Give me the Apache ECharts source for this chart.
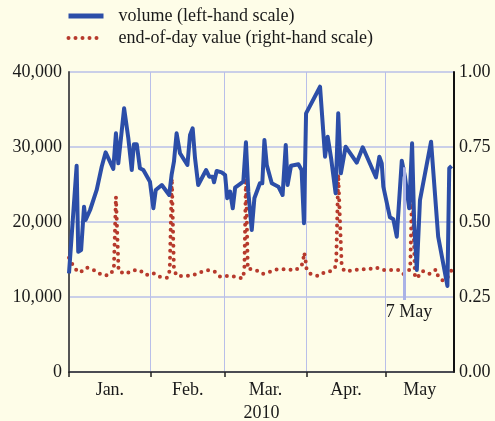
<!DOCTYPE html>
<html>
<head>
<meta charset="utf-8">
<script src="https://cdn.jsdelivr.net/npm/echarts@6/dist/echarts.min.js"></script>
<style>
  html, body { margin: 0; padding: 0; background: #fefde8; }
  #chart { width: 495px; height: 421px; }
</style>
</head>
<body>
<div id="chart"></div>
<script>
// x values are days counted from 1 Jan 2010
const monthStarts = [0, 31, 59, 90, 120];
const monthMids = [15.5, 45, 74.5, 105, 133];
const monthNames = ["Jan.", "Feb.", "Mar.", "Apr.", "May"];

const volumeDays = [0, 2.9, 3.5, 4.6, 5.7, 6.3, 8, 10.5, 12.4, 13.9, 16.8, 17.8, 18.7, 20.9, 22.5, 23.8,
  24.6, 25.7, 26.9, 28.2, 30.7, 32, 32.9, 35.2, 38, 38.9, 39.8, 40.8, 42.1, 44.9, 45.9, 46.9, 47.8,
  49, 52, 53.2, 54.5, 55, 56, 57.9, 59.2, 60, 61.1, 62.1, 63, 66.1, 67.1, 68, 69.3, 70.3, 72.4,
  73.3, 74.1, 75, 76.9, 79.4, 81, 82.2, 82.9, 84.2, 87, 88.2, 89.1, 89.9, 95.2, 97.1, 98.1, 99.4,
  101.1, 102.1, 103.1, 104.9, 109.1, 111.4, 116.4, 117.7, 118.6, 119.2, 121.7, 123, 124.3, 126.2,
  127.4, 129, 130.1, 130.9, 131.9, 133.1, 137.3, 140, 143.5, 144.2, 145.1];
const volumeValues = [13160, 27500, 16040, 16270, 22040, 20270, 21600, 24270, 27370, 29290, 27070,
  31820, 27820, 35160, 31160, 26930, 30360, 30360, 27160, 26930, 25370, 21820, 24270, 24930, 23600,
  26270, 28040, 31820, 29160, 27600, 31600, 32490, 28490, 24930, 26930, 26040, 26040, 25290, 26800,
  26620, 26270, 23160, 24040, 21820, 24570, 25370, 30620, 24040, 18930, 23160, 25160, 25160, 30930,
  27600, 25160, 24710, 23600, 30270, 24930, 27510, 27690, 26930, 19830, 34490, 38040, 28710, 31370,
  28490, 23820, 34490, 26490, 30040, 27910, 29960, 25960, 28710, 27820, 24710, 20620, 20360, 18040,
  28180, 26040, 21820, 30490, 19830, 13600, 22930, 30710, 18040, 11470, 27160, 27470];

const eodDays = [0, 1.6, 3.5, 5, 6.8, 9.9, 12.4, 15.2, 17, 17.8, 18.8, 21.5, 24.2, 26.8, 29.2, 31.9,
  34.5, 37.3, 38.2, 39, 39.8, 41, 44, 47.1, 49.9, 53, 55.4, 57.3, 60.4, 62.9, 65.9, 66.5, 67.1, 67.8,
  69.1, 71.2, 73.3, 76.2, 78.9, 81.6, 85.7, 88.2, 88.9, 89.2, 89.8, 90.1, 91.7, 94.5, 97.1, 99.8,
  101.3, 102.1, 103.4, 104.4, 107.6, 110.4, 113.5, 116.4, 119, 122, 124.9, 126.8, 129.4, 130.2,
  131.2, 132.7, 134.1, 136.6, 139.2, 140, 141.9, 143.8, 145.1];
const eodValues = [0.381, 0.354, 0.332, 0.336, 0.348, 0.338, 0.323, 0.322, 0.341, 0.584, 0.336,
  0.327, 0.339, 0.339, 0.323, 0.33, 0.317, 0.314, 0.339, 0.646, 0.339, 0.32, 0.32, 0.323, 0.333,
  0.34, 0.334, 0.318, 0.32, 0.318, 0.312, 0.34, 0.646, 0.343, 0.343, 0.338, 0.327, 0.334, 0.342,
  0.343, 0.339, 0.353, 0.379, 0.398, 0.366, 0.342, 0.326, 0.32, 0.333, 0.337, 0.354, 0.659, 0.354,
  0.337, 0.338, 0.343, 0.342, 0.348, 0.34, 0.34, 0.34, 0.326, 0.343, 0.646, 0.314, 0.321, 0.337,
  0.327, 0.342, 0.318, 0.304, 0.318, 0.34];

const markerDay = 127;
const markerTop = 27300;
const markerBottom = 9600;

const serif = "'Liberation Serif', 'DejaVu Serif', serif";
const ink = "#1a1a1a";
const gridColor = "#b9bfe9";
const blue = "#2c4ea8";
const red = "#b73a2c";
const dots = [0, 7];

const chart = echarts.init(document.getElementById("chart"));
chart.setOption({
  backgroundColor: "#fefde8",
  animation: false,
  textStyle: { fontFamily: serif, color: ink },
  legend: {
    orient: "vertical",
    left: 61,
    top: 2,
    itemWidth: 35,
    itemHeight: 14,
    itemGap: 4,
    itemStyle: { opacity: 0 },
    data: [
      { name: "volume (left-hand scale)", lineStyle: { width: 5, color: blue } },
      { name: "end-of-day value (right-hand scale)", lineStyle: { width: 4, color: red, type: dots, cap: "round" } }
    ],
    textStyle: { fontFamily: serif, fontSize: 18, color: ink, padding: [0, 0, 0, 10] }
  },
  grid: { left: 69, right: 41, top: 72, bottom: 49, outerBoundsMode: "none", containLabel: false },
  xAxis: {
    type: "value",
    min: 0,
    max: 146,
    name: "2010",
    nameLocation: "middle",
    nameGap: 32,
    nameTextStyle: { fontFamily: serif, fontSize: 18, color: ink },
    axisLine: { lineStyle: { color: "#222", width: 1.5 } },
    axisTick: { show: true, length: 5, customValues: monthStarts, lineStyle: { color: "#222", width: 1.5 } },
    axisLabel: {
      customValues: monthMids,
      margin: 9,
      fontSize: 18,
      color: ink,
      fontFamily: serif,
      formatter: v => monthNames[monthMids.indexOf(v)]
    },
    splitLine: { show: true, lineStyle: { color: gridColor, width: 1 } }
  },
  yAxis: [
    {
      type: "value",
      min: 0,
      max: 40000,
      interval: 10000,
      axisLine: { show: true, lineStyle: { color: "#555", width: 2 } },
      axisTick: { show: false },
      axisLabel: {
        margin: 7, fontSize: 18, color: ink, fontFamily: serif,
        formatter: v => v.toLocaleString("en-US")
      },
      splitLine: { lineStyle: { color: gridColor, width: 1.5 } }
    },
    {
      type: "value",
      min: 0,
      max: 1,
      interval: 0.25,
      axisLine: { show: true, lineStyle: { color: "#111", width: 2 } },
      axisTick: { show: false },
      axisLabel: {
        margin: 5, fontSize: 18, color: ink, fontFamily: serif,
        formatter: v => v.toFixed(2)
      },
      splitLine: { show: false }
    }
  ],
  series: [
    {
      name: "7 May marker",
      type: "line",
      yAxisIndex: 0,
      data: [],
      z: 1,
      markLine: {
        silent: true,
        symbol: "none",
        lineStyle: { color: "#aab2e6", width: 3, type: "solid" },
        label: {
          position: "end",
          distance: 3,
          formatter: "7 May",
          padding: [0, 0, 0, 10],
          fontFamily: serif,
          fontSize: 18,
          color: ink
        },
        data: [[{ coord: [markerDay, markerTop] }, { coord: [markerDay, markerBottom] }]]
      }
    },
    {
      name: "end-of-day value (right-hand scale)",
      type: "line",
      yAxisIndex: 1,
      showSymbol: false,
      symbol: "none",
      z: 2,
      color: red,
      lineStyle: { color: red, width: 4, type: dots, cap: "round" },
      data: eodDays.map((d, i) => [d, eodValues[i]])
    },
    {
      name: "volume (left-hand scale)",
      type: "line",
      yAxisIndex: 0,
      showSymbol: false,
      symbol: "none",
      z: 3,
      color: blue,
      lineStyle: { color: blue, width: 4, join: "round" },
      data: volumeDays.map((d, i) => [d, volumeValues[i]])
    }
  ]
});
</script>
</body>
</html>
